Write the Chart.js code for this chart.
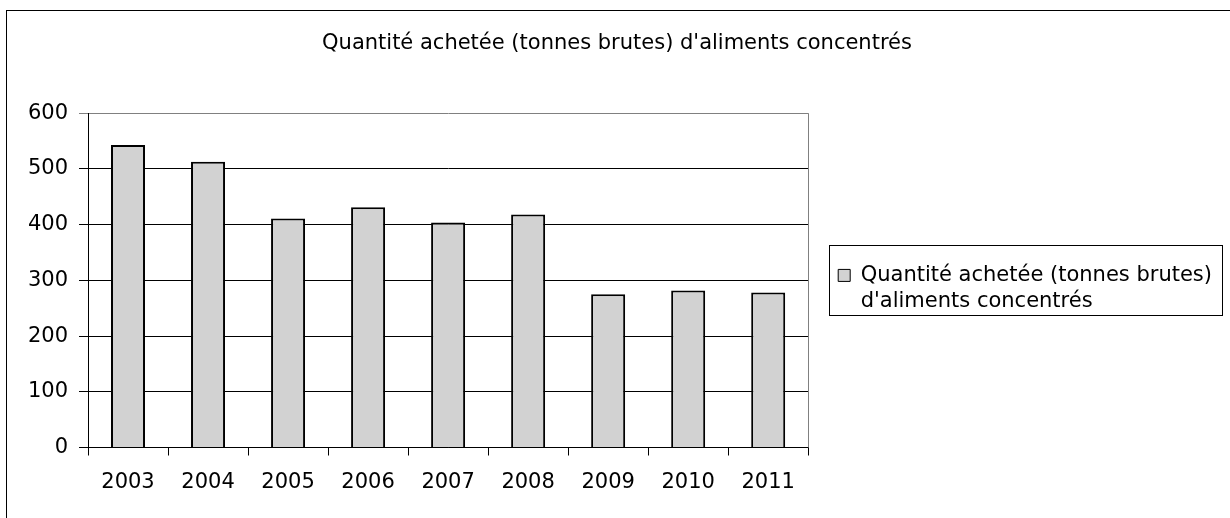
<!DOCTYPE html>
<html>
<head>
<meta charset="utf-8">
<script src="https://cdn.jsdelivr.net/npm/chart.js@4"></script>
<style>
  html, body { margin: 0; padding: 0; background: #fff; }
  #wrap { width: 1230px; height: 518px; }
</style>
</head>
<body>
<div id="wrap"><canvas id="chart"></canvas></div>
<script>
const years = ['2003', '2004', '2005', '2006', '2007', '2008', '2009', '2010', '2011'];
const quantities = [543, 513, 411, 431, 404, 418, 275, 282, 278];
const seriesName = "Quantité achetée (tonnes brutes) d'aliments concentrés";
const legendLines = ['Quantité achetée (tonnes brutes)', "d'aliments concentrés"];
const yTicks = [0, 100, 200, 300, 400, 500, 600];

const font = { family: 'DejaVu Sans', size: 21, weight: 'normal' };

// outer frame, right border of plot, box round the legend
const frames = {
    id: 'frames',
    beforeDraw(chart) {
        const ctx = chart.ctx;
        ctx.save();
        ctx.fillStyle = '#fff';
        ctx.fillRect(0, 0, chart.width, chart.height);
        ctx.strokeStyle = '#000';
        ctx.lineWidth = 1;
        ctx.strokeRect(6.5, 10.5, chart.width + 20, chart.height + 20);
        ctx.restore();
    },
    afterDraw(chart) {
        const ctx = chart.ctx;
        const a = chart.chartArea;
        ctx.save();
        ctx.strokeStyle = '#808080';
        ctx.lineWidth = 1;
        ctx.beginPath();
        ctx.moveTo(Math.round(a.right) + 0.5, a.top);
        ctx.lineTo(Math.round(a.right) + 0.5, a.bottom);
        ctx.stroke();
        const hb = chart.legend.legendHitBoxes[0];
        if (hb) {
            ctx.strokeStyle = '#000';
            const l = Math.round(hb.left - 9) + 0.5;
            const t = Math.round(hb.top - 20) + 0.5;
            const r = Math.round(hb.left + hb.width + 10) + 0.5;
            ctx.strokeRect(l, t, r - l, 70);
        }
        ctx.restore();
    }
};

new Chart(document.getElementById('chart'), {
    type: 'bar',
    data: {
        labels: years,
        datasets: [{
            label: seriesName,
            data: quantities,
            backgroundColor: '#d2d2d2',
            borderColor: '#000',
            borderWidth: { top: 2, left: 2, right: 2, bottom: 0 },
            borderSkipped: 'start',
            barPercentage: 0.425,
            categoryPercentage: 1
        }]
    },
    options: {
        responsive: true,
        maintainAspectRatio: false,
        animation: false,
        layout: { padding: { left: 12, top: 0, right: 8, bottom: 0 } },
        scales: {
            x: {
                afterFit(scale) { scale.height = 70.5; },
                grid: {
                    offset: true,
                    drawOnChartArea: false,
                    tickLength: 8,
                    color: '#000'
                },
                border: { color: '#000', width: 1 },
                ticks: { color: '#000', font: font, padding: 14 }
            },
            y: {
                min: 0,
                max: 600,
                afterFit(scale) { scale.width = 76; },
                afterBuildTicks(scale) { scale.ticks = yTicks.map(v => ({ value: v })); },
                grid: {
                    tickLength: 9,
                    color: c => (c.tick && c.tick.value === 600 ? '#808080' : '#000')
                },
                border: { color: '#000', width: 1 },
                ticks: { color: '#000', font: font, padding: 11 }
            }
        },
        plugins: {
            title: {
                display: true,
                text: seriesName,
                color: '#000',
                font: font,
                padding: { top: 31, bottom: 57 }
            },
            legend: {
                position: 'right',
                fullSize: false,
                maxWidth: 600,
                title: { display: true, text: '', padding: { top: 20, bottom: 0 }, font: { size: 1 } },
                labels: {
                    font: { family: 'DejaVu Sans', size: 21, lineHeight: 1.24 },
                    color: '#000',
                    boxWidth: 12,
                    boxHeight: 12,
                    padding: 30,
                    generateLabels(chart) {
                        const ds = chart.data.datasets[0];
                        return [{
                            text: legendLines,
                            fillStyle: ds.backgroundColor,
                            strokeStyle: '#000',
                            fontColor: '#000',
                            lineWidth: 1,
                            datasetIndex: 0
                        }];
                    }
                }
            },
            tooltip: { enabled: false }
        }
    },
    plugins: [frames]
});
</script>
</body>
</html>
